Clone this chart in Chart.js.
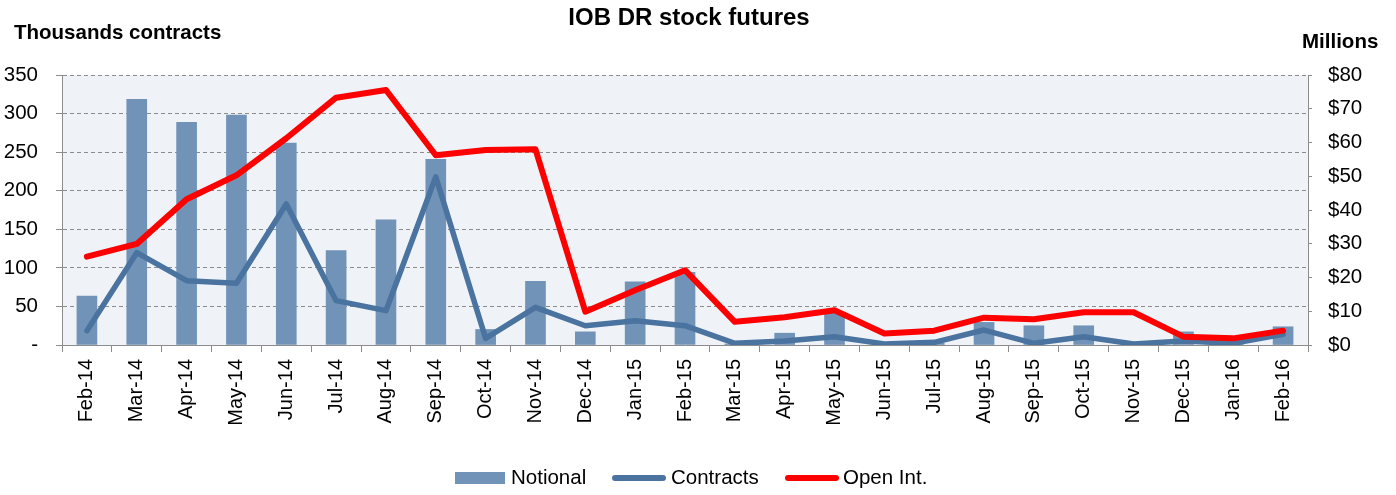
<!DOCTYPE html>
<html><head><meta charset="utf-8">
<script src="https://cdn.jsdelivr.net/npm/chart.js@4/dist/chart.umd.min.js"></script>
<style>html,body{margin:0;padding:0;background:#fff}#wrap{width:1396px;height:495px;position:relative}</style>
</head><body><div id="wrap"><canvas id="c" width="1396" height="495"></canvas></div>
<script>
const categories = ["Feb-14","Mar-14","Apr-14","May-14","Jun-14","Jul-14","Aug-14","Sep-14","Oct-14","Nov-14","Dec-14","Jan-15","Feb-15","Mar-15","Apr-15","May-15","Jun-15","Jul-15","Aug-15","Sep-15","Oct-15","Nov-15","Dec-15","Jan-16","Feb-16"];
const notional = [14.5,72.8,66,68.1,59.8,28,37.1,55,4.6,18.9,3.9,18.7,21.5,0.3,3.5,9.7,0.2,0.5,6.7,5.7,5.7,0.3,3.9,0.5,5.4];
const contracts = [18.6,119.7,83.4,80,182.8,57.5,44.5,218,8.6,48.8,25,31.5,25,2.2,5.2,10.8,1.3,3.5,19.4,2.2,10.8,1.3,5.2,2.2,13.8];
const openInt = [114.5,131,189,220,268,320.6,330.6,246,252.8,253.7,43.2,71,97,30,36,45,15,18.6,35.4,33.3,42.4,42.4,10.8,8.6,18.6];
const leftTicks = [0,50,100,150,200,250,300,350];
const rightTicks = [0,10,20,30,40,50,60,70,80];

const FONT = "'Liberation Sans', Arial, sans-serif";
const BAR = '#7193B7', BLUE = '#4A73A0', RED = '#FF0000';

const deco = {
  id:'deco',
  beforeDraw(chart){
    const {ctx, chartArea:a} = chart;
    ctx.save(); ctx.fillStyle='#EFF3F7';
    ctx.fillRect(a.left,a.top,a.right-a.left,a.bottom-a.top); ctx.restore();
  },
  afterDraw(chart){
    const ctx = chart.ctx;
    ctx.save();
    ctx.fillStyle='#000'; ctx.textBaseline='middle';
    ctx.font = "bold 24px "+FONT; ctx.textAlign='center';
    ctx.fillText("IOB DR stock futures", 689, 18);
    ctx.font = "bold 20.5px "+FONT; ctx.textAlign='left';
    ctx.fillText("Thousands contracts", 14, 33);
    ctx.fillText("Millions", 1302, 42);
    // legend
    const ds = chart.data.datasets;
    const y = 478;
    ctx.font = "20.5px "+FONT;
    ctx.fillStyle = BAR; ctx.fillRect(455, y-6, 50, 12);
    ctx.fillStyle='#000'; ctx.fillText(ds[0].label, 511, y);
    ctx.lineCap='round';
    ctx.strokeStyle=BLUE; ctx.lineWidth=6; ctx.beginPath(); ctx.moveTo(615,y); ctx.lineTo(663,y); ctx.stroke();
    ctx.fillText(ds[1].label, 671, y);
    ctx.strokeStyle=RED; ctx.beginPath(); ctx.moveTo(788,y); ctx.lineTo(836,y); ctx.stroke();
    ctx.fillText(ds[2].label, 843, y);
    ctx.restore();
  }
};

new Chart(document.getElementById('c'), {
  data: {
    labels: categories,
    datasets: [
      {type:'bar', label:'Notional', data:notional, yAxisID:'yR', backgroundColor:BAR, barThickness:20, order:3},
      {type:'line', label:'Contracts', data:contracts, yAxisID:'yL', borderColor:BLUE, borderWidth:5.5, pointRadius:0, tension:0, order:2, borderJoinStyle:'round', borderCapStyle:'round'},
      {type:'line', label:'Open Int.', data:openInt, yAxisID:'yL', borderColor:RED, borderWidth:6, pointRadius:0, tension:0, order:1, borderJoinStyle:'round', borderCapStyle:'round'}
    ]
  },
  options: {
    responsive:false, animation:false, devicePixelRatio:1,
    layout:{padding:{top:75,left:0,right:0,bottom:0}},
    plugins:{legend:{display:false}, tooltip:{enabled:false}, title:{display:false}},
    scales:{
      x:{
        offset:true,
        grid:{offset:true, drawOnChartArea:false, drawTicks:true, tickLength:7, color:'#8c8c8c'},
        border:{display:true, color:'#8c8c8c', width:1},
        ticks:{font:{family:FONT,size:20}, color:'#000', maxRotation:90, minRotation:90, autoSkip:false, padding:7},
        afterFit(s){ s.height = 150; }
      },
      yL:{
        position:'left', min:0, max:350,
        afterBuildTicks(s){ s.ticks = leftTicks.map(v=>({value:v})); },
        grid:{color:'#8c8c8c', lineWidth:1, tickLength:6, drawTicks:true},
        border:{display:true, color:'#8c8c8c', dash:[4,3]},
        ticks:{font:{family:FONT,size:20.5}, color:'#000', padding:18, callback:v=> v===0 ? '-' : String(v)},
        afterFit(s){ s.width = 62; }
      },
      yR:{
        position:'right', min:0, max:80,
        afterBuildTicks(s){ s.ticks = rightTicks.map(v=>({value:v})); },
        grid:{drawOnChartArea:false, color:'#8c8c8c', tickLength:4},
        border:{display:true, color:'#8c8c8c'},
        ticks:{font:{family:FONT,size:20.5}, color:'#000', padding:16, callback:v=>'$'+v},
        afterFit(s){ s.width = 88; }
      }
    }
  },
  plugins:[deco]
});
</script></body></html>
